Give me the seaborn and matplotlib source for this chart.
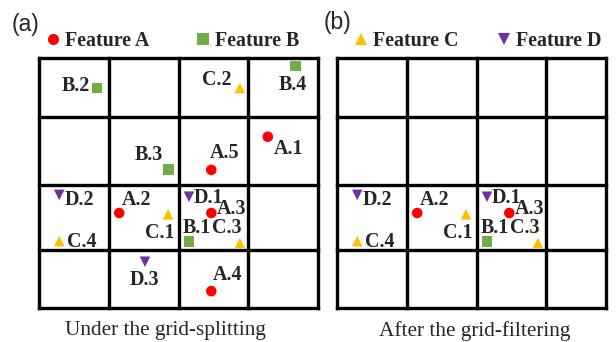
"""grid-splitting vs grid-filtering of features A-D"""

import seaborn as sns
import matplotlib.pyplot as plt
from matplotlib.lines import Line2D
import pandas as pd

# point labels and their positions in grid units (x to the right, y downwards)
labels = ["A.1", "A.2", "A.3", "A.4", "A.5",
          "B.1", "B.2", "B.3", "B.4",
          "C.1", "C.2", "C.3", "C.4",
          "D.1", "D.2", "D.3"]
x_pos = [3.28, 1.15, 2.47, 2.47, 2.47,
         2.15, 0.83, 1.86, 3.68,
         1.85, 2.88, 2.88, 0.29,
         2.15, 0.29, 1.52]
y_pos = [1.26, 2.48, 2.48, 3.73, 1.79,
         2.94, 0.48, 1.78, 0.13,
         2.50, 0.48, 2.96, 2.93,
         2.22, 2.19, 3.26]

# grid lines (the right part of panel b is cut off in the original)
col_edges_a = [0, 1, 2, 3, 4]
col_edges_b = [0, 1, 2, 3, 3.86]
row_edges = [0, 0.944, 2.032, 3.072, 4.0]
kept_row = 2  # row kept by the grid-filtering

features = ["Feature A", "Feature B", "Feature C", "Feature D"]
captions = ["Under the grid-splitting", "After the grid-filtering"]

colors = {"Feature A": "#FF0000", "Feature B": "#70AD47",
          "Feature C": "#FFC000", "Feature D": "#7030A0"}
markers = {"Feature A": "o", "Feature B": "s",
           "Feature C": "^", "Feature D": "v"}

# where each label sits relative to its marker, in pixels (dx right, dy down)
label_offsets = {
    "A.1": (21, 12), "A.2": (17, -13), "A.3": (20, -4), "A.4": (16, -16),
    "A.5": (13, -17), "B.1": (8, -14), "B.2": (-21, -2), "B.3": (-20, -14),
    "B.4": (-3, 19), "C.1": (-8, 19), "C.2": (-23, -8), "C.3": (-13, -15),
    "C.4": (23, 1), "D.1": (19, 1), "D.2": (20, 5), "D.3": (-1, 18),
}

df = pd.DataFrame({"label": labels, "x": x_pos, "y": y_pos})
df["feature"] = "Feature " + df["label"].str[0]
df["row"] = pd.cut(df["y"], row_edges, labels=False)
df_b = df[df["row"] == kept_row]

sns.set_style("white")
plt.rcParams["font.family"] = ["Liberation Serif", "DejaVu Serif"]

fig = plt.figure(figsize=(6.16, 3.42), dpi=100)
ax_a = fig.add_axes([39 / 616, 34 / 342, 279 / 616, 250 / 342])
ax_b = fig.add_axes([337 / 616, 34 / 342, 279 / 616, 250 / 342])


def draw_panel(ax, data, col_edges):
    ax.vlines(col_edges, row_edges[0], row_edges[-1], color="black",
              linewidth=2.4, clip_on=False, capstyle="projecting")
    ax.hlines(row_edges, col_edges[0], col_edges[-1], color="black",
              linewidth=2.4, clip_on=False, capstyle="projecting")
    sns.scatterplot(
        data=data, x="x", y="y", hue="feature", style="feature",
        palette=colors, markers=markers, hue_order=features,
        style_order=features, s=58, linewidth=0, legend=False,
        ax=ax, zorder=3, clip_on=False,
    )
    for _, r in data.iterrows():
        dx, dy = label_offsets[r["label"]]
        ax.annotate(r["label"], (r["x"], r["y"]), xytext=(dx, -dy),
                    textcoords="offset pixels", ha="center", va="center",
                    fontsize=14.4, fontweight="bold", zorder=4)
    ax.set_xlim(0, 4)
    ax.set_ylim(4, 0)
    ax.set_axis_off()


draw_panel(ax_a, df, col_edges_a)
draw_panel(ax_b, df_b, col_edges_b)


def feature_legend(names, x_px, spacing):
    handles = [Line2D([], [], linestyle="none", marker=markers[n],
                      markersize=8, markerfacecolor=colors[n],
                      markeredgewidth=0, label=n) for n in names]
    leg = fig.legend(handles=handles, ncol=2, loc="center left",
                     bbox_to_anchor=(x_px / 616, 1 - 41 / 342),
                     frameon=False, borderpad=0, borderaxespad=0,
                     handlelength=0.6, handletextpad=0.3,
                     columnspacing=spacing,
                     prop={"family": "Liberation Serif", "weight": "bold",
                           "size": 14.4})
    return leg


feature_legend(features[:2], 47, 2.4)
feature_legend(features[2:], 355, 1.95)

fig.text(12 / 616, 1 - 24 / 342, "(a)", family="Liberation Sans",
         fontsize=16.5, va="center", ha="left")
fig.text(324 / 616, 1 - 23 / 342, "(b)", family="Liberation Sans",
         fontsize=16.5, va="center", ha="left")

fig.text(165 / 616, 1 - 331 / 342, captions[0], fontsize=15.3,
         ha="center", va="center")
fig.text(475 / 616, 1 - 331 / 342, captions[1], fontsize=15.3,
         ha="center", va="center")

fig.savefig("out.png", dpi=100)
